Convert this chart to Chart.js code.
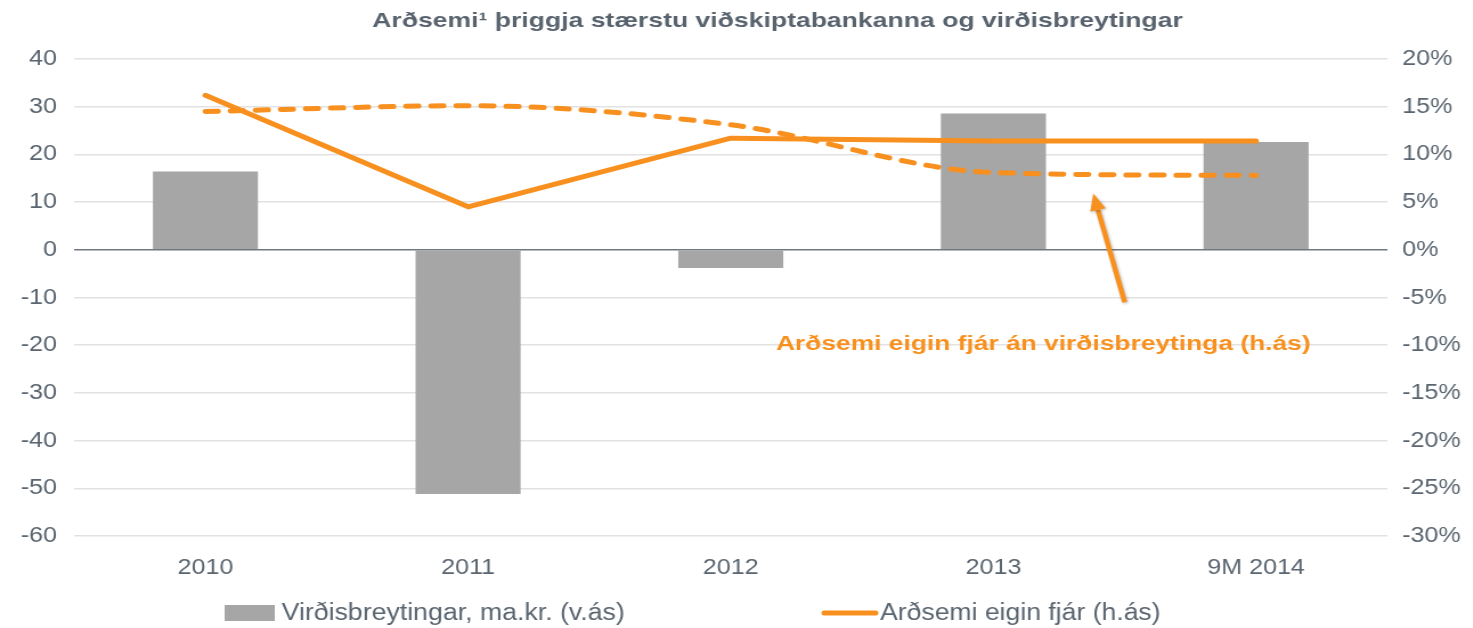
<!DOCTYPE html>
<html>
<head>
<meta charset="utf-8">
<script src="https://cdn.jsdelivr.net/npm/chart.js@4.4.1/dist/chart.umd.min.js"></script>
<style>
  html, body { margin: 0; padding: 0; background: #ffffff; overflow: hidden; }
  /* the canvas is drawn narrower and widened, giving the wide lettering of the original slide */
  #wrap { width: 1292px; height: 628px; transform: scaleX(1.14); transform-origin: 0 0; }
</style>
</head>
<body>
<div id="wrap"><canvas id="c" width="1292" height="628"></canvas></div>
<script>
// Categories and series
const categories = ['2010', '2011', '2012', '2013', '9M 2014'];
const valueChanges = [16.4, -51.2, -3.8, 28.6, 22.6];          // ma.kr., left axis
const returnOnEquity = [16.2, 4.5, 11.7, 11.4, 11.4];           // %, right axis
const returnExclChanges = [14.5, 15.1, 13.1, 8.1, 7.8];         // %, right axis
const leftTicks = [40, 30, 20, 10, 0, -10, -20, -30, -40, -50, -60];
const rightTicks = [20, 15, 10, 5, 0, -5, -10, -15, -20, -25, -30];

const ORANGE = '#F7901E';
const GREY_BAR = '#A6A6A6';
const TEXT = '#5A6570';
const FONT = '"Liberation Sans", Arial, sans-serif';

const titleText = 'Arðsemi¹ þriggja stærstu viðskiptabankanna og virðisbreytingar';
const noteText = 'Arðsemi eigin fjár án virðisbreytinga (h.ás)';

// draws text centred at (cx, cy), widened to the given width
function wideText(ctx, text, cx, cy, width) {
  const natural = ctx.measureText(text).width;
  const sx = width / natural;
  ctx.save();
  ctx.translate(cx, cy);
  ctx.scale(sx, 1);
  ctx.textAlign = 'center';
  ctx.textBaseline = 'middle';
  ctx.fillText(text, 0, 0);
  ctx.restore();
}

// Title, callout and legend drawn on the canvas
const decorations = {
  id: 'decorations',
  afterDraw(chart) {
    const ctx = chart.ctx;
    const x = chart.scales.x, y1 = chart.scales.y1;
    ctx.save();

    // title
    ctx.fillStyle = '#58636E';
    ctx.font = 'bold 21px ' + FONT;
    wideText(ctx, titleText, 682, 21, 711);

    // callout arrow pointing at the dashed series
    const tail = { x: x.getPixelForValue(3.5), y: y1.getPixelForValue(-5.5) };
    const tip = { x: x.getPixelForValue(3.38), y: y1.getPixelForValue(5.9) };
    const ang = Math.atan2(tip.y - tail.y, tip.x - tail.x);
    const headLen = 17, headHalf = 7;
    const base = { x: tip.x - headLen * Math.cos(ang), y: tip.y - headLen * Math.sin(ang) };
    ctx.shadowColor = 'rgba(0,0,0,0.25)';
    ctx.shadowBlur = 3;
    ctx.shadowOffsetX = 1;
    ctx.shadowOffsetY = 1;
    ctx.strokeStyle = ORANGE;
    ctx.fillStyle = ORANGE;
    ctx.lineWidth = 4.5;
    ctx.lineCap = 'butt';
    ctx.beginPath();
    ctx.moveTo(tail.x, tail.y);
    ctx.lineTo(base.x, base.y);
    ctx.stroke();
    ctx.beginPath();
    ctx.moveTo(tip.x, tip.y);
    ctx.lineTo(base.x + headHalf * Math.sin(ang), base.y - headHalf * Math.cos(ang));
    ctx.lineTo(base.x - headHalf * Math.sin(ang), base.y + headHalf * Math.cos(ang));
    ctx.closePath();
    ctx.fill();
    ctx.shadowColor = 'transparent';

    // callout label
    ctx.font = 'bold 20px ' + FONT;
    ctx.fillStyle = ORANGE;
    wideText(ctx, noteText, x.getPixelForValue(3.19), y1.getPixelForValue(-9.9), 469);

    // legend
    const ds = chart.data.datasets;
    const legendY = 613;
    ctx.font = '23px ' + FONT;
    ctx.fillStyle = ds[2].backgroundColor;
    ctx.fillRect(197, legendY - 8, 44, 16);
    ctx.fillStyle = TEXT;
    wideText(ctx, ds[2].label, 397.5, legendY + 1, 301);
    ctx.strokeStyle = ds[0].borderColor;
    ctx.lineWidth = 5;
    ctx.lineCap = 'round';
    ctx.beginPath();
    ctx.moveTo(723, legendY);
    ctx.lineTo(768, legendY);
    ctx.stroke();
    ctx.fillStyle = TEXT;
    wideText(ctx, ds[0].label, 895, legendY + 1, 246);

    ctx.restore();
  }
};

new Chart(document.getElementById('c'), {
  type: 'bar',
  data: {
    labels: categories,
    datasets: [
      {
        type: 'line',
        label: 'Arðsemi eigin fjár (h.ás)',
        data: returnOnEquity,
        yAxisID: 'y1',
        borderColor: ORANGE,
        backgroundColor: ORANGE,
        borderWidth: 5,
        borderCapStyle: 'round',
        borderJoinStyle: 'round',
        pointRadius: 0,
        tension: 0,
        order: 0
      },
      {
        type: 'line',
        label: noteText,
        data: returnExclChanges,
        yAxisID: 'y1',
        borderColor: ORANGE,
        backgroundColor: ORANGE,
        borderWidth: 5,
        borderDash: [11, 11],
        borderCapStyle: 'round',
        cubicInterpolationMode: 'monotone',
        pointRadius: 0,
        order: 1
      },
      {
        type: 'bar',
        label: 'Virðisbreytingar, ma.kr. (v.ás)',
        data: valueChanges,
        yAxisID: 'y',
        backgroundColor: GREY_BAR,
        barPercentage: 0.4,
        categoryPercentage: 1.0,
        order: 2
      }
    ]
  },
  options: {
    responsive: false,
    animation: false,
    devicePixelRatio: 1,
    layout: { padding: { top: 59, bottom: 50, left: 0, right: 0 } },
    plugins: {
      legend: { display: false },
      title: { display: false },
      tooltip: { enabled: false }
    },
    scales: {
      x: {
        offset: true,
        grid: { display: false, drawTicks: false },
        border: { display: false },
        ticks: { color: TEXT, font: { family: FONT, size: 22 }, padding: 19 },
        afterFit(s) { s.height = 42; }
      },
      y: {
        position: 'left',
        min: -60, max: 40,
        afterBuildTicks(s) { s.ticks = leftTicks.map(v => ({ value: v })); },
        grid: {
          drawTicks: false,
          lineWidth: 1.5,
          color: c => (c.tick && c.tick.value === 0) ? '#6E7882' : '#E2E2E2'
        },
        border: { display: false },
        ticks: { color: TEXT, font: { family: FONT, size: 22 }, padding: 15 },
        afterFit(s) { s.width = 65; }
      },
      y1: {
        position: 'right',
        min: -30, max: 20,
        afterBuildTicks(s) { s.ticks = rightTicks.map(v => ({ value: v })); },
        grid: { display: false, drawTicks: false },
        border: { display: false },
        ticks: {
          color: TEXT, font: { family: FONT, size: 22 }, padding: 13,
          callback: v => v + '%'
        },
        afterFit(s) { s.width = 75; }
      }
    }
  },
  plugins: [decorations]
});
</script>
</body>
</html>
